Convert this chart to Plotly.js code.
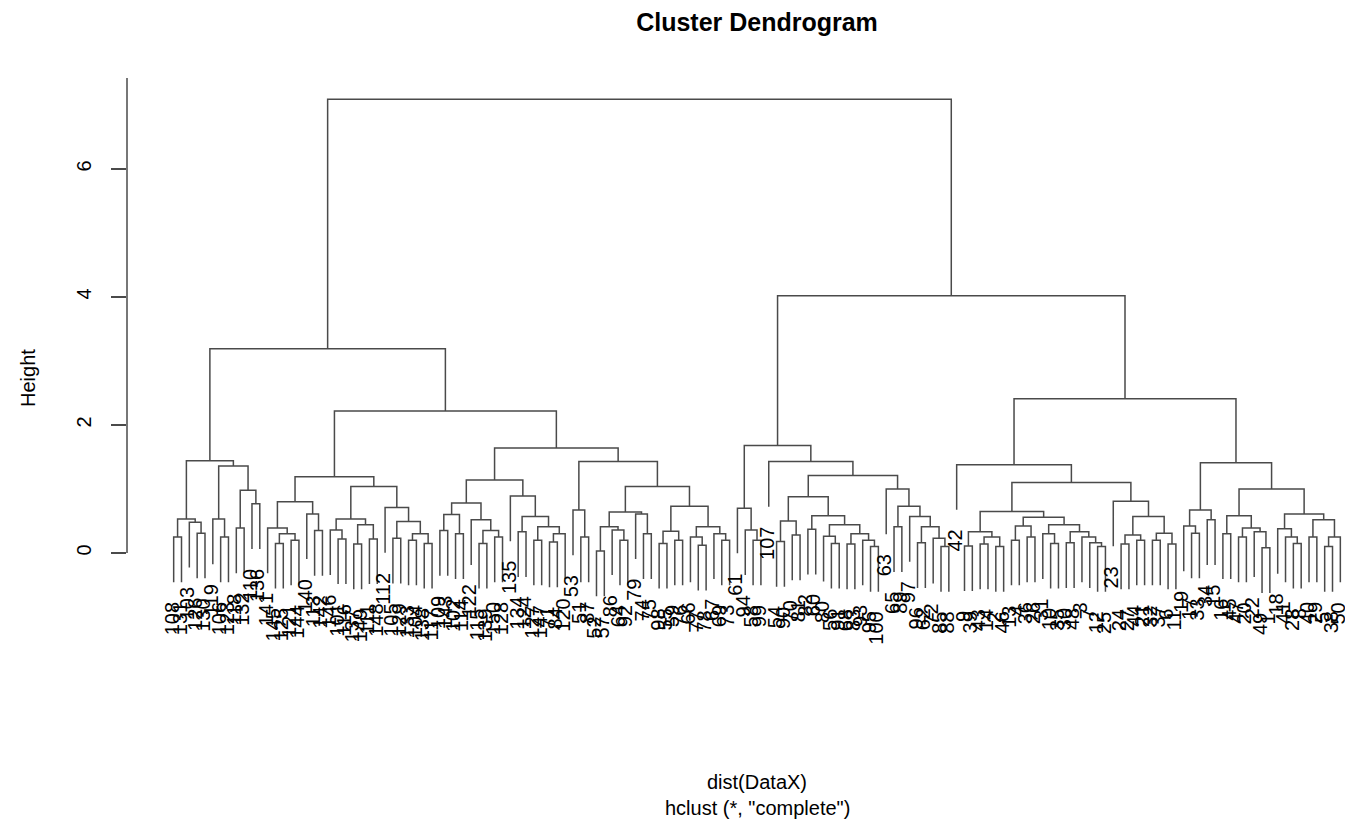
<!DOCTYPE html>
<html>
<head>
<meta charset="utf-8">
<script src="https://cdn.plot.ly/plotly-3.0.1.min.js"></script>
<style>
  html, body { margin: 0; padding: 0; background: #ffffff; overflow: hidden; }
  #chart { width: 1345px; height: 824px; }
</style>
</head>
<body>
<div id="chart"></div>
<script>
// Complete-linkage clustering tree. Each internal node is [height, left, right];
// a plain number is a leaf (observation label).

const clusterA1 = [1.44,
  [0.53, [0.25, 108, 131], [0.48, 103, [0.31, 126, 130]]],
  [1.36, [0.53, 119, [0.25, 106, 123]], [0.98, [0.39, 118, 132], [0.77, 110, 136]]]];

const clusterA2L = [1.19,
  [0.80, [0.39, 141, [0.30, [0.15, 145, 125], [0.20, 121, 144]]], [0.61, 140, [0.35, 113, 142]]],
  [1.04,
    [0.53, [0.36, 146, [0.22, 101, 116]], [0.44, [0.14, 137, 149], [0.22, 111, 148]]],
    [0.71, 112, [0.49, [0.23, 105, 129], [0.30, [0.20, 133, 104], [0.15, 138, 117]]]]]];

const clusterA2RL = [1.14,
  [0.78, [0.60, [0.35, 109, 143], [0.30, 102, 114]], [0.52, 122, [0.35, [0.15, 115, 139], [0.25, 150, 128]]]],
  [0.89, 135, [0.57, [0.33, 134, 124], [0.41, [0.20, 127, 147], [0.30, [0.17, 71, 84], 120]]]]];

const clusterA2RR = [1.43,
  [0.67, 53, [0.25, 51, 87]],
  [1.04,
    [0.64, [0.41, [0.03, 52, 57], [0.36, 86, [0.20, 64, 92]]], [0.61, 79, [0.30, 74, 75]]],
    [0.73, [0.34, [0.15, 98, 55], [0.20, 59, 76]], [0.41, [0.25, 66, [0.12, 77, 78]], [0.30, 67, [0.20, 69, 73]]]]]];

const clusterB1 = [1.68,
  [0.70, 61, [0.36, 94, [0.20, 58, 99]]],
  [1.43, 107, [1.21,
    [0.88, [0.50, [0.18, 54, 90], [0.28, 70, 81]],
           [0.58, [0.37, 82, 60], [0.44, [0.26, 80, [0.15, 56, 91]], [0.30, [0.14, 68, 83], [0.20, 93, [0.10, 95, 100]]]]]],
    [1.00, 63, [0.73, [0.41, 65, 89], [0.57, 97, [0.41, [0.16, 96, 62], [0.23, 72, [0.10, 85, 88]]]]]]]]];

const clusterB2L = [1.38, 42, [1.10,
  [0.65,
    [0.33, [0.11, 9, 39], [0.25, [0.14, 43, 14], [0.10, 2, 46]]],
    [0.56, [0.42, [0.20, 13, 4], [0.25, 36, 26]],
           [0.44, [0.30, 31, [0.15, 10, 35]], [0.33, [0.16, 30, 48], [0.25, 3, [0.16, 7, [0.10, 12, 25]]]]]]],
  [0.81, 23, [0.57, [0.28, [0.14, 24, 27], [0.20, 44, 21]], [0.31, [0.20, 32, 37], [0.14, 6, 11]]]]]];

const clusterB2R = [1.41,
  [0.67, [0.42, 19, [0.31, 17, 33]], [0.52, 34, 15]],
  [1.00,
    [0.58, [0.30, 16, 45], [0.39, [0.25, 47, 20], [0.33, 22, [0.08, 49, 1]]]],
    [0.61, [0.38, 18, [0.25, 41, [0.15, 28, 8]]], [0.52, [0.25, 40, 29], [0.25, [0.10, 5, 38], 50]]]]];

const mergeHeights = { A2: 2.22, A2R: 1.64, A: 3.19, B2: 2.41, B: 4.02, root: 7.09 };

const axisTicks = [0, 2, 4, 6];
const axisTickLabels = ['0', '2', '4', '6'];

const titleText = 'Cluster Dendrogram';
const xLabel = 'dist(DataX)';
const subLabel = 'hclust (*, "complete")';
const yLabel = 'Height';

// assemble the full tree from its branches
const clusterA = [mergeHeights.A, clusterA1,
  [mergeHeights.A2, clusterA2L, [mergeHeights.A2R, clusterA2RL, clusterA2RR]]];
const clusterB = [mergeHeights.B, clusterB1, [mergeHeights.B2, clusterB2L, clusterB2R]];
const tree = [mergeHeights.root, clusterA, clusterB];

// ---- layout of the tree: leaves at 1..n, internal nodes at mid-point of children
let leafCounter = 0;
function place(node) {
  if (typeof node === 'number') {
    leafCounter += 1;
    return { leaf: true, label: String(node), x: leafCounter };
  }
  const left = place(node[1]);
  const right = place(node[2]);
  return { leaf: false, h: node[0], x: (left.x + right.x) / 2, left, right };
}
const root = place(tree);

let maxH = -Infinity, minH = Infinity;
(function scan(n) {
  if (n.leaf) return;
  maxH = Math.max(maxH, n.h); minH = Math.min(minH, n.h);
  scan(n.left); scan(n.right);
})(root);
const hang = 0.1 * (maxH - minH);

const labelSize = 20;
const segX = [], segY = [];
const leafAnnotations = [];
(function draw(n) {
  if (n.leaf) return;
  const ends = [n.left, n.right].map(c => c.leaf ? n.h - hang : c.h);
  segX.push(n.left.x, n.left.x, n.right.x, n.right.x, null);
  segY.push(ends[0], n.h, n.h, ends[1], null);
  [n.left, n.right].forEach((c, i) => {
    if (c.leaf) {
      // labels sit one "m"-width below the end of each leaf
      leafAnnotations.push({
        x: c.x, y: ends[i], xref: 'x', yref: 'y',
        text: c.label, textangle: -90, showarrow: false,
        xanchor: 'center', yanchor: 'top', yshift: -Math.round(0.9 * labelSize), xshift: -2,
        font: { family: 'Liberation Sans, Arial, sans-serif', size: labelSize, color: '#000' }
      });
    }
  });
  draw(n.left); draw(n.right);
})(root);

const nLeaves = leafCounter;
const pad = 0.04 * (nLeaves - 1);

const W = 1345, H = 824;
const marginL = 127, marginT = 78, marginB = H - 618;
const pxPerUnitX = 7.83;
const xMax = (1 - pad) + (W - marginL) / pxPerUnitX;
const yMax = 7.422;

const trace = {
  type: 'scatter', mode: 'lines', x: segX, y: segY,
  line: { color: '#4a4a4a', width: 1.5 }, hoverinfo: 'skip', showlegend: false
};

const font = { family: 'Liberation Sans, Arial, sans-serif', color: '#000' };
const paperX = px => (px - marginL) / (W - marginL);
const paperY = py => (618 - py) / (618 - marginT);

const layout = {
  width: W, height: H,
  margin: { l: marginL, r: 0, t: marginT, b: marginB, pad: 0 },
  paper_bgcolor: '#ffffff', plot_bgcolor: '#ffffff',
  title: {
    text: '<b>' + titleText + '</b>',
    font: Object.assign({ size: 25 }, font),
    xref: 'container', x: 757 / W, xanchor: 'center',
    yref: 'container', y: 1 - 22 / H, yanchor: 'middle'
  },
  xaxis: {
    range: [1 - pad, xMax], showgrid: false, zeroline: false, showline: false,
    showticklabels: false, ticks: '', fixedrange: true
  },
  yaxis: {
    range: [-1.016, yMax], showgrid: false, zeroline: false, showline: false,
    tickmode: 'array', tickvals: axisTicks, ticktext: axisTickLabels,
    ticks: 'outside', ticklen: 15, tickwidth: 1.4, tickcolor: '#4a4a4a',
    tickangle: -90, tickfont: Object.assign({ size: 20 }, font),
    ticklabelstandoff: 12, fixedrange: true
  },
  shapes: [{
    type: 'line', xref: 'paper', x0: 0, x1: 0, yref: 'y', y0: axisTicks[0], y1: yMax,
    line: { color: '#4a4a4a', width: 1.5 }
  }],
  annotations: leafAnnotations.concat([
    { text: yLabel, textangle: -90, xref: 'paper', yref: 'paper', x: paperX(28), y: paperY(378),
      xanchor: 'center', yanchor: 'middle', showarrow: false, font: Object.assign({ size: 20 }, font) },
    { text: xLabel, xref: 'paper', yref: 'paper', x: paperX(757), y: paperY(782),
      xanchor: 'center', yanchor: 'middle', showarrow: false, font: Object.assign({ size: 20 }, font) },
    { text: subLabel, xref: 'paper', yref: 'paper', x: paperX(757), y: paperY(808),
      xanchor: 'center', yanchor: 'middle', showarrow: false, font: Object.assign({ size: 20 }, font) }
  ])
};

Plotly.newPlot('chart', [trace], layout, { staticPlot: true, displayModeBar: false });
</script>
</body>
</html>
